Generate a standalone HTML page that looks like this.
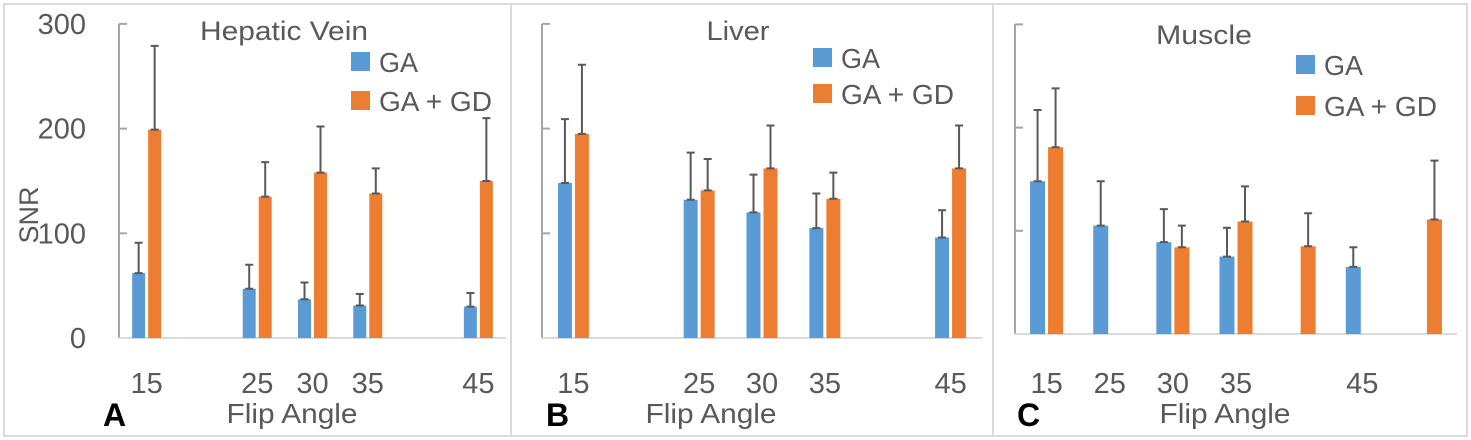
<!DOCTYPE html>
<html><head><meta charset="utf-8"><style>
html,body{margin:0;padding:0;background:#fff;}
svg{display:block;font-family:"Liberation Sans",sans-serif;}
</style></head><body>
<svg id="chart" width="1471" height="440" viewBox="0 0 1471 440">
<rect x="4" y="4" width="1463" height="432" fill="#fff" stroke="#d9d9d9" stroke-width="2"/>
<line x1="511" y1="4" x2="511" y2="436" stroke="#d9d9d9" stroke-width="2"/>
<line x1="993" y1="4" x2="993" y2="436" stroke="#d9d9d9" stroke-width="2"/>
</svg>
<script>
const categoriesA = ["15", "", "25", "30", "35", "", "45"];
const gaA = [62, null, 47, 37, 31, null, 30];
const gaErrA = [91, null, 70, 53, 42, null, 43];
const gdA = [199, null, 135, 158, 138, null, 150];
const gdErrA = [279, null, 168, 202, 162, null, 210];

const categoriesB = ["15", "", "25", "30", "35", "", "45"];
const gaB = [148, null, 132, 120, 105, null, 96];
const gaErrB = [209, null, 177, 156, 138, null, 122];
const gdB = [195, null, 141, 162, 133, null, 162];
const gdErrB = [261, null, 171, 203, 158, null, 203];

const categoriesC = ["15", "25", "30", "35", "", "45", ""];
const gaC = [148, 105, 89, 75, null, 65, null];
const gaErrC = [217, 148, 121, 103, null, 84, null];
const gdC = [181, null, 84, 109, 85, null, 111];
const gdErrC = [238, null, 105, 143, 117, null, 168];

const yTicks = [0, 100, 200, 300];

const svg = document.getElementById('chart');
const NS = 'http://www.w3.org/2000/svg';
function mk(tag, attrs, parent) {
  const e = document.createElementNS(NS, tag);
  for (const k in attrs) e.setAttribute(k, attrs[k]);
  (parent || svg).appendChild(e);
  return e;
}
function txt(s, attrs, parent) { const e = mk('text', attrs, parent); e.textContent = s; return e; }

const panels = [
  {id:'a', title:'Hepatic Vein', tw:168, letter:'A', x0:119, x1:506, base:338, top:24, per:104.7, bw:13, cats:categoriesA, ga:gaA, gaE:gaErrA, gd:gdA, gdE:gdErrA, showY:true,
   titleX:284, titleY:40, legX:351, legY:52, legGap:39, faX:292, letterX:103},
  {id:'b', title:'Liver', tw:63, letter:'B', x0:542, x1:982, base:338, top:24, per:104.7, bw:14, cats:categoriesB, ga:gaB, gaE:gaErrB, gd:gdB, gdE:gdErrB, showY:false,
   titleX:738, titleY:40, legX:813, legY:48, legGap:36, faX:711, letterX:546},
  {id:'c', title:'Muscle', tw:96, letter:'C', x0:1015, x1:1457, base:334, top:24, per:103.2, bw:15, cats:categoriesC, ga:gaC, gaE:gaErrC, gd:gdC, gdE:gdErrC, showY:false,
   titleX:1204, titleY:44, legX:1296, legY:55, legGap:41, faX:1225, letterX:1017}
];

panels.forEach(p => {
  const g = mk('g', {});
  
  
  const y = v => p.base - v * p.per / 100;
  const slot = (p.x1 - p.x0) / p.cats.length;
  const cx = i => p.x0 + slot * (i + 0.5);

  const ya = mk('line', {x1:p.x0, y1:p.top, x2:p.x0, y2:p.base, stroke:'#a6a6a6', 'stroke-width':2}, g);
  
  
  yTicks.forEach(t => {
    const tk = mk('line', {x1:p.x0, y1:y(t), x2:p.x0 + 8, y2:y(t), stroke:'#a6a6a6', 'stroke-width':2}, g);
    
    
    if (p.showY) {
      const tl = txt(String(t), {x:86, y:y(t) + 10, 'text-anchor':'end', 'font-size':29, fill:'#595959'}, g);
      
      
    }
  });
  const xa = mk('line', {x1:p.x0, y1:p.base, x2:p.x1, y2:p.base, stroke:'#d9d9d9', 'stroke-width':2}, g);
  
  

  const drawBar = (v, e, xl, color, name) => {
    if (v == null) return;
    const r = mk('rect', {x:xl, y:y(v), width:p.bw, height:p.base - y(v), fill:color}, g);
    
    
    const xc = xl + p.bw / 2;
    const eb = mk('path', {d:`M${xc},${y(v)}V${y(e)}M${xc-4},${y(e)}H${xc+4}M${xc-4},${y(v)}H${xc+4}`, stroke:'#595959', 'stroke-width':2, fill:'none'}, g);
    
    
  };
  p.cats.forEach((c, i) => {
    const c0 = cx(i);
    drawBar(p.ga[i], p.gaE[i], c0 - p.bw - 1.5, '#5b9bd5', 'bar-ga-' + (c || 'blank' + i));
    drawBar(p.gd[i], p.gdE[i], c0 + 1.5, '#ed7d31', 'bar-ga-gd-' + (c || 'blank' + i));
    if (c) {
      const xl = txt(c, {x:c0, y:393, 'text-anchor':'middle', 'font-size':29, fill:'#595959'}, g);
      
      
    }
  });

  const t = txt(p.title, {x:p.titleX, y:p.titleY, 'text-anchor':'middle', 'font-size':27, fill:'#595959', textLength:p.tw, lengthAdjust:'spacingAndGlyphs'}, g);
  
  

  const l1 = mk('rect', {x:p.legX, y:p.legY, width:19, height:19, fill:'#5b9bd5'}, g);
  
  
  const lt1 = txt('GA', {x:p.legX + 28, y:p.legY + 20, 'font-size':28, fill:'#595959', textLength:39, lengthAdjust:'spacingAndGlyphs'}, g);
  
  
  const l2 = mk('rect', {x:p.legX, y:p.legY + p.legGap, width:19, height:19, fill:'#ed7d31'}, g);
  
  
  const lt2 = txt('GA + GD', {x:p.legX + 28, y:p.legY + p.legGap + 20, 'font-size':28, fill:'#595959', textLength:113, lengthAdjust:'spacingAndGlyphs'}, g);
  
  

  const fa = txt('Flip Angle', {x:p.faX, y:423, 'text-anchor':'middle', 'font-size':28, fill:'#595959', textLength:131, lengthAdjust:'spacingAndGlyphs'}, g);
  
  
  const le = txt(p.letter, {x:p.letterX, y:426, 'font-size':32, 'font-weight':'bold', fill:'#000'}, g);
  
  
  if (p.showY) {
    const sn = txt('SNR', {x:0, y:0, 'text-anchor':'middle', 'font-size':27, fill:'#595959', transform:'translate(38,215) rotate(-90)'}, g);
    
    
  }
});
</script>
</body></html>
